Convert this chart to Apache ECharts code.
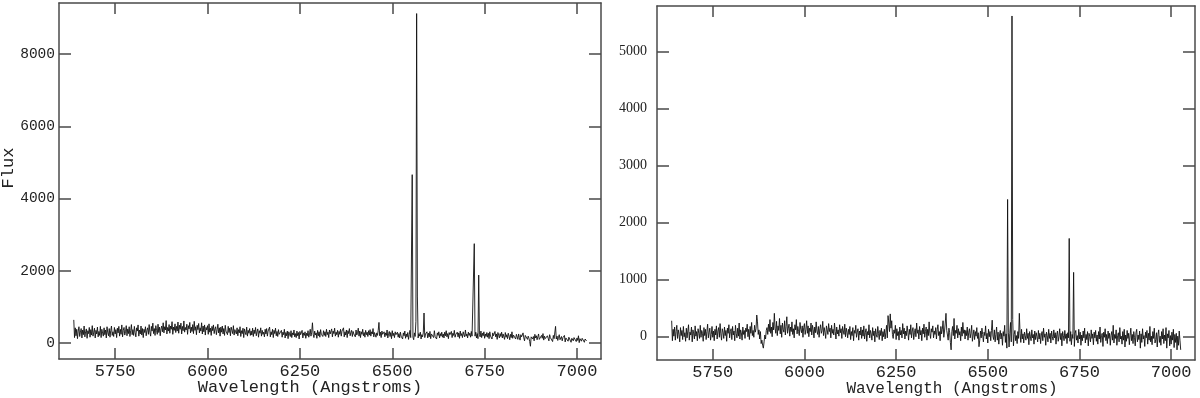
<!DOCTYPE html>
<html>
<head>
<meta charset="utf-8">
<script src="https://cdn.jsdelivr.net/npm/echarts@6/dist/echarts.min.js"></script>
<style>
  html, body { margin: 0; padding: 0; background: #fff; }
  #chart { width: 1200px; height: 398px; }
</style>
</head>
<body>
<div id="chart"></div>
<script>
// wavelength grid of both spectra (Angstroms)
const waveStart = 5638;
const waveStep = 2;

// left spectrum, flux
const fluxLeft = [
  640, 150, 420, 200, 380, 120, 330, 450, 180, 300, 400, 140, 360, 230, 470, 170, 310, 390, 130, 340,
  260, 430, 160, 370, 220, 480, 190, 300, 410, 140, 350, 250, 440, 170, 320, 210, 460, 150, 380, 270,
  190, 420, 230, 360, 140, 450, 280, 200, 400, 160, 340, 470, 210, 310, 180, 430, 250, 370, 150, 410,
  280, 460, 190, 380, 240, 500, 170, 350, 430, 220, 310, 480, 200, 390, 260, 450, 180, 340, 510, 230,
  370, 210, 460, 290, 170, 420, 330, 500, 190, 360, 250, 470, 220, 400, 150, 380, 290, 450, 200, 350,
  420, 240, 510, 300, 190, 460, 330, 550, 260, 400, 210, 480, 350, 240, 520, 290, 440, 200, 390, 470,
  310, 560, 280, 450, 360, 620, 250, 430, 330, 510, 270, 470, 380, 590, 240, 440, 350, 530, 290, 460,
  330, 580, 270, 490, 380, 550, 250, 460, 340, 610, 300, 430, 360, 520, 240, 480, 390, 570, 280, 440,
  320, 510, 260, 600, 350, 450, 230, 490, 370, 540, 280, 420, 330, 560, 250, 470, 310, 500, 220, 430,
  360, 480, 240, 530, 300, 410, 210, 460, 340, 500, 260, 390, 450, 230, 370, 520, 280, 420, 190, 440,
  300, 470, 250, 400, 210, 490, 330, 380, 230, 460, 290, 410, 200, 440, 350, 260, 480, 220, 370, 310,
  250, 420, 200, 370, 280, 450, 180, 340, 260, 410, 150, 390, 300, 230, 440, 190, 350, 270, 400, 210,
  330, 220, 410, 180, 360, 260, 430, 200, 310, 390, 160, 340, 270, 420, 190, 350, 240, 300, 170, 380,
  250, 400, 190, 330, 280, 440, 170, 310, 230, 380, 150, 350, 260, 410, 200, 320, 180, 370, 240, 290,
  210, 350, 160, 300, 230, 380, 140, 290, 200, 330, 120, 310, 250, 180, 340, 150, 280, 220, 360, 170,
  260, 150, 330, 200, 290, 110, 320, 230, 180, 350, 140, 280, 210, 310, 130, 270, 200, 340, 160, 250,
  380, 190, 300, 560, 240, 150, 330, 220, 280, 130, 350, 200, 310, 160, 370, 240, 290, 180, 340, 210,
  310, 180, 380, 230, 300, 150, 360, 250, 200, 390, 170, 330, 260, 410, 190, 300, 230, 350, 160, 320,
  240, 380, 190, 330, 280, 420, 170, 310, 220, 360, 150, 340, 260, 400, 200, 290, 350, 180, 320, 250,
  300, 170, 360, 220, 280, 410, 190, 330, 150, 310, 240, 380, 200, 290, 160, 350, 230, 300, 180, 340,
  220, 370, 190, 310, 250, 400, 170, 290, 330, 160, 280, 210, 350, 570, 200, 300, 150, 330, 240, 190,
  310, 170, 280, 210, 360, 140, 260, 320, 180, 290, 120, 340, 200, 270, 150, 310, 230, 180, 300, 160,
  260, 140, 300, 190, 240, 110, 280, 200, 330, 130, 250, 170, 290, 100, 230, 350, 150, 120, 4660, 160,
  90, 280, 180, 600, 9120, 1300, 140, 260, 190, 300, 110, 230, 170, 280, 830, 150, 250, 200, 310, 140,
  270, 170, 320, 120, 250, 200, 290, 150, 340, 180, 230, 110, 280, 210, 310, 140, 260, 190, 300, 160,
  250, 140, 300, 200, 340, 170, 260, 120, 290, 230, 180, 320, 150, 270, 210, 350, 160, 240, 190, 300,
  170, 280, 130, 330, 200, 260, 150, 310, 230, 170, 360, 190, 250, 140, 300, 210, 270, 160, 320, 190,
  240, 150, 2750, 190, 300, 140, 260, 120, 1880, 230, 170, 330, 150, 270, 200, 310, 130, 250, 180, 290,
  160, 270, 120, 310, 190, 240, 110, 280, 200, 150, 320, 170, 250, 100, 290, 210, 140, 260, 180, 300,
  140, 250, 170, 100, 290, 160, 230, 120, 270, 190, 90, 240, 150, 310, 130, 220, 180, 260, 110, 240,
  200, 100, 250, 150, 80, 230, 170, 120, 280, 140, 60, 210, 160, 250, 100, 190, 130, 40, -90, 170,
  220, 110, 180, 60, 240, 140, 200, 90, 170, 250, 100, 150, 50, 210, 130, 260, 80, 190, 120, 170,
  90, 200, 130, 60, 230, 150, 100, 180, 40, 210, 120, 170, 460, 110, 190, 70, 160, 230, 90, 140,
  180, 60, 150, 100, 210, 30, 140, 90, 190, 50, 160, 120, 200, 20, 130, 170, 60, 150, 100, 190,
  40, 140, 70, 200, 10, 120, 160, 50, 130, 80, 180, 20, 110, 150, 60
];

// right spectrum, flux
const fluxRight = [
  280, -70, 130, 10, 170, -60, 90, 200, -30, 120, 40, -90, 160, 20, 110, -50, 180, 0, 70, -80,
  150, -20, 100, 210, -60, 80, 30, 170, -90, 120, 50, -40, 190, 10, 90, -70, 140, 60, -30, 200,
  -10, 110, 60, -80, 160, 20, 130, -50, 90, 220, -20, 70, 150, -60, 40, 180, -10, 100, -70, 130,
  30, 190, -40, 100, 160, -10, 230, 50, -60, 140, 80, -30, 170, 20, 110, -80, 150, 60, 210, -20,
  90, 140, -50, 180, 30, 100, -70, 200, 60, -20, 150, 10, 240, -40, 120, 70, -60, 170, 40, 110,
  -30, 150, 90, 220, 0, 130, -50, 180, 60, 250, 20, 110, -10, 200, 80, 140, 380, 260, 40, 120,
  -40, 90, -120, -60, -150, -200, -90, 30, -40, 110, 160, 40, 220, 90, 300, 60, 170, 0, 250, 120,
  410, 150, 60, 270, 20, 190, 110, 320, 50, 200, -10, 240, 130, 80, 280, 30, 180, 350, 60, 150,
  220, 10, 170, 90, 260, 40, 140, -20, 210, 120, 300, 50, 180, 90, 20, 250, 130, 70, 190, -10,
  160, 230, 40, 130, 280, 60, 190, 0, 150, 90, 240, 30, 200, 120, -20, 170, 70, 260, 100, 40,
  180, -10, 140, 210, 60, 110, 270, 20, 160, 80, -30, 190, 120, 40, 230, 90, 150, -20, 200, 60,
  130, 30, 240, 90, -40, 170, 50, 120, 10, 210, 70, 140, -30, 180, 100, 40, 220, 0, 150, 80,
  -20, 130, 40, 180, -50, 90, 20, 160, -70, 110, 60, 200, -10, 80, 140, -60, 100, 30, 170, -30,
  120, 10, 190, -40, 70, 140, -80, 90, 30, 210, -20, 110, 50, -60, 160, 20, 100, -90, 140, 40,
  -10, 180, 60, -50, 110, 20, 150, -70, 90, 0, 130, -40, 70, 200, -20, 370, 240, 90, 400, 150,
  280, 40, -30, 120, 60, 200, -50, 140, 20, 90, -60, 170, 30, 110, -20, 230, 50, 150, -40, 100,
  20, 190, 80, -60, 130, 40, 210, -20, 100, 160, -50, 70, 140, 0, 240, 60, 120, -40, 180, 30,
  110, -70, 150, 50, 220, -10, 90, 170, -60, 130, 20, 260, 60, -30, 140, 80, 190, -20, 100, 40,
  160, -40, 120, 210, 20, 90, -70, 180, 50, 130, 280, -10, 100, 240, 410, 110, 30, -60, 150, 70,
  -100, -230, 90, 180, 20, 320, -40, 110, 60, 200, -20, 140, 30, 90, -70, 170, 10, 250, 60, 120,
  -40, 110, 20, 170, -60, 80, 140, -20, 60, 200, -80, 30, 120, -50, 90, 10, 160, -30, 70, -175,
  -60, 100, -20, 150, 40, -90, 80, 20, 190, -40, 60, -110, 130, 0, 90, -70, 110, 290, 10, -50,
  120, -90, 40, 170, -60, 80, -130, 30, 110, -40, 60, -150, 90, 10, 200, -100, 50, -200, 2406, 80,
  -180, 60, 250, -90, 5622, 300, -160, 40, 110, -70, 20, -120, 90, -30, 410, 60, -100, 130, -40, 50,
  -110, 80, 20, -60, 140, -30, 60, -140, 90, 10, -70, 120, -20, 40, -130, 100, -50, 70, 0, -90,
  110, -40, 60, -120, 30, 90, -70, 150, -10, 50, -150, 80, 20, -90, 130, -30, 60, -110, 100, 0,
  -60, 120, -20, 70, -130, 40, 100, -80, 10, 140, -50, 60, -160, 90, 20, -70, 110, -30, 50, -120,
  70, -20, 1723, -80, 90, -140, 40, -30, 1128, -170, 60, 110, -60, 20, -110, 130, -40, 80, -150, 30,
  -70, 100, -20, 150, -110, 40, -50, 90, -160, 60, 0, -90, 120, -30, 50, -140, 80, -20, 110, -80,
  30, -130, 90, -40, 170, -100, 20, 60, -170, 80, -10, 140, -70, 40, -120, 100, -30, 60, -150, 20,
  90, -60, 200, -110, 40, -30, 120, -150, 20, 70, -90, 160, -40, 10, -130, 90, -60, 130, -180, 30,
  -80, 110, -30, 60, -140, 20, 150, -70, 40, -120, 90, -10, -160, 70, 130, -90, 30, -50, 100, -200,
  50, -100, 140, -40, 20, -170, 80, -20, 110, -130, 60, -60, 180, -90, 10, -140, 90, -30, 150, -110,
  -50, 70, -180, 40, 120, -100, 10, -150, 90, -40, 140, -120, 30, -70, 160, -200, 50, -20, 110, -160,
  20, -130, 80, -60, 130, -190, 40, -100, 60, -230, 10, -150, 100, -60, -230
];

const xTicks = [5750, 6000, 6250, 6500, 6750, 7000];
const yTicksLeft = [0, 2000, 4000, 6000, 8000];
const yTicksRight = [0, 1000, 2000, 3000, 4000, 5000];

const frame = { color: "#4a4a4a", width: 1.5 };
const mono = "Liberation Mono";

function toPoints(flux) {
  return flux.map((f, i) => [waveStart + i * waveStep, f]);
}

function xAxisFor(grid, position, ticks, labelOpts, nameOpts) {
  return Object.assign({
    type: "value",
    gridIndex: grid,
    position: position,
    min: 5598,
    max: 7065,
    nameMoveOverlap: false,
    axisLine: { show: true, onZero: false, lineStyle: frame },
    axisTick: { show: true, inside: true, length: 11, lineStyle: frame, customValues: ticks },
    axisLabel: labelOpts
      ? Object.assign({ customValues: ticks, color: "#222", formatter: (v) => String(v) }, labelOpts)
      : { show: false },
    splitLine: { show: false },
  }, nameOpts || {});
}

function yAxisFor(grid, position, min, max, ticks, labelOpts, nameOpts) {
  return Object.assign({
    type: "value",
    gridIndex: grid,
    position: position,
    min: min,
    max: max,
    nameMoveOverlap: false,
    axisLine: { show: true, onZero: false, lineStyle: frame },
    axisTick: { show: true, inside: true, length: 12, lineStyle: frame, customValues: ticks },
    axisLabel: labelOpts
      ? Object.assign({ customValues: ticks, color: "#222", formatter: (v) => String(v) }, labelOpts)
      : { show: false },
    splitLine: { show: false },
  }, nameOpts || {});
}

const chart = echarts.init(document.getElementById("chart"));

const option = {
  animation: false,
  backgroundColor: "#fff",
  grid: [
    { left: 59, top: 3, width: 542, height: 356, containLabel: false, outerBoundsMode: "none" },
    { left: 657, top: 6, width: 538, height: 354, containLabel: false, outerBoundsMode: "none" },
  ],
  xAxis: [
    xAxisFor(0, "bottom", xTicks,
      { margin: 4, fontFamily: mono, fontSize: 17 },
      {
        name: "Wavelength (Angstroms)",
        nameLocation: "middle",
        nameGap: 20,
        nameTextStyle: { fontFamily: mono, fontSize: 17, color: "#222", padding: [0, 40, 0, 0] },
      }),
    xAxisFor(0, "top", xTicks, null),
    xAxisFor(1, "bottom", xTicks,
      { margin: 4, fontFamily: mono, fontSize: 17 },
      {
        name: "Wavelength (Angstroms)",
        nameLocation: "middle",
        nameGap: 21,
        nameTextStyle: { fontFamily: mono, fontSize: 16, color: "#222", padding: [0, 0, 0, 52] },
      }),
    xAxisFor(1, "top", xTicks, null),
  ],
  yAxis: [
    yAxisFor(0, "left", -443, 9412, yTicksLeft,
      { margin: 4, fontFamily: mono, fontSize: 14.5 },
      {
        name: "Flux",
        nameLocation: "middle",
        nameGap: 42,
        nameTextStyle: { fontFamily: mono, fontSize: 17, color: "#222", padding: [0, 0, 0, 26] },
      }),
    yAxisFor(0, "right", -443, 9412, yTicksLeft, null),
    yAxisFor(1, "left", -408, 5797, yTicksRight,
      { margin: 10, fontFamily: "Liberation Serif", fontSize: 14 }),
    yAxisFor(1, "right", -408, 5797, yTicksRight, null),
  ],
  series: [
    {
      type: "line",
      xAxisIndex: 0,
      yAxisIndex: 0,
      data: toPoints(fluxLeft),
      showSymbol: false,
      lineStyle: { color: "#111", width: 0.9 },
    },
    {
      type: "line",
      xAxisIndex: 2,
      yAxisIndex: 2,
      data: toPoints(fluxRight),
      showSymbol: false,
      lineStyle: { color: "#111", width: 0.9 },
    },
  ],
};

chart.setOption(option);
</script>
</body>
</html>
